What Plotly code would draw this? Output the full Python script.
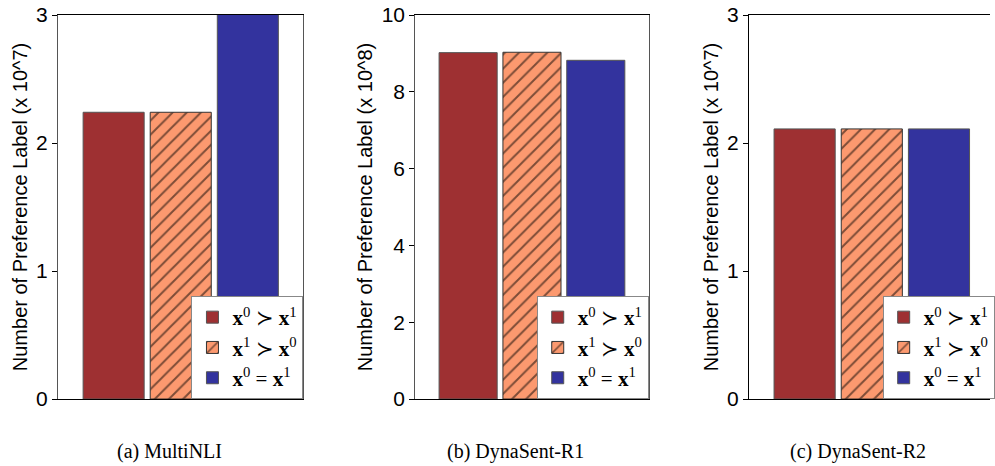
import plotly.graph_objects as go

# ---- data ----
datasets = ["(a) MultiNLI", "(b) DynaSent-R1", "(c) DynaSent-R2"]
series_names = ["<b>x</b><sup>0</sup> ≻ <b>x</b><sup>1</sup>",
                "<b>x</b><sup>1</sup> ≻ <b>x</b><sup>0</sup>",
                "<b>x</b><sup>0</sup> = <b>x</b><sup>1</sup>"]
x0_pref = [2.24, 9.02, 2.11]   # x0 > x1
x1_pref = [2.24, 9.03, 2.11]   # x1 > x0
tie_pref = [3.40, 8.82, 2.11]  # x0 = x1
y_units = ["(x 10^7)", "(x 10^8)", "(x 10^7)"]
y_max = [3, 10, 3]
y_dtick = [1, 2, 1]

W, H = 995, 466
colors = ["#9E3032", "#FC996F", "#33339E"]
edge = ["#555555", "#333333", "#555555"]

# pixel layout of the three panels
x_dom_px = [(58.3, 305.0), (417.3, 652.0), (752.7, 995.0)]
x_ranges = [[-0.5, 0.5], [-0.5, 0.5], [-0.5, -0.5 + (995.0 - 752.7) / 247.0]]
y_top, y_bot = 15.0, 399.0
cap_x_px = [170.5, 518.0, 862.0]
cap_y_px = 451.0

fig = go.Figure()
values = [x0_pref, x1_pref, tie_pref]
for p in range(3):
    xa = "x" if p == 0 else f"x{p+1}"
    ya = "y" if p == 0 else f"y{p+1}"
    lg = "legend" if p == 0 else f"legend{p+1}"
    for s in range(3):
        marker = dict(color=colors[s], line=dict(color=edge[s], width=1))
        if s == 1:
            marker["pattern"] = dict(shape="/", fgcolor="#000000", bgcolor=colors[s],
                                     fillmode="overlay", size=10, solidity=0.2)
        fig.add_trace(go.Bar(x=[0], y=[values[s][p]], name=series_names[s],
                             marker=marker, xaxis=xa, yaxis=ya, legend=lg,
                             offsetgroup=str(s), showlegend=True))

layout = dict(width=W, height=H, margin=dict(l=0, r=0, t=0, b=0),
              plot_bgcolor="white", paper_bgcolor="white",
              barmode="group", bargap=0.18, bargroupgap=0.09)

ydom = [1 - y_bot / H, 1 - y_top / H]
for p in range(3):
    sfx = "" if p == 0 else str(p + 1)
    layout["xaxis" + sfx] = dict(domain=[x_dom_px[p][0] / W, x_dom_px[p][1] / W],
                                range=x_ranges[p], showticklabels=False, ticks="",
                                showgrid=False, zeroline=False, showline=True,
                                linecolor="black", linewidth=1, mirror=True,
                                anchor="y" + sfx, fixedrange=True, automargin=False)
    layout["yaxis" + sfx] = dict(domain=ydom, range=[0, y_max[p]], dtick=y_dtick[p],
                                showgrid=False, zeroline=False, showline=True,
                                linecolor="#555555" if p < 2 else "black", linewidth=1,
                                mirror=(p < 2), ticks="outside", ticklen=5,
                                tickcolor="black", automargin=False,
                                tickfont=dict(family="Liberation Sans, Arial", size=21, color="black"),
                                title=dict(text="Number of Preference Label " + y_units[p],
                                           font=dict(family="Liberation Sans, Arial", size=20, color="black"),
                                           standoff=3),
                                anchor="x" + sfx)
    lgname = "legend" if p == 0 else f"legend{p+1}"
    right_px = x_dom_px[p][0] + 247.0 if p == 2 else x_dom_px[p][1]
    layout[lgname] = dict(x=right_px / W, y=1 - y_bot / H, xanchor="right", yanchor="bottom",
                          bgcolor="white", bordercolor="#888888", borderwidth=1,
                          font=dict(family="Liberation Serif, DejaVu Serif", size=21, color="black"),
                          tracegroupgap=0)

annotations = []
for p in range(3):
    annotations.append(dict(text=datasets[p], x=cap_x_px[p] / W, y=1 - cap_y_px / H,
                            xref="paper", yref="paper", showarrow=False,
                            xanchor="center", yanchor="middle",
                            font=dict(family="Liberation Serif, Times New Roman", size=20, color="black")))
layout["annotations"] = annotations

fig.update_layout(**layout)
fig.write_html("out.html", config={"displayModeBar": False})
